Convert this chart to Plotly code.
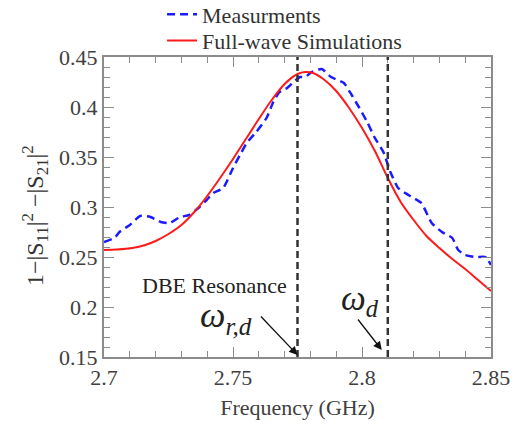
import plotly.graph_objects as go

# Measurements (blue dashed)
meas_f = [2.700, 2.704, 2.706, 2.710, 2.714, 2.718, 2.722, 2.7255, 2.7295, 2.733,
          2.737, 2.7398, 2.7424, 2.7462, 2.750, 2.7527, 2.7553, 2.759, 2.763, 2.7656,
          2.768, 2.771, 2.7735, 2.776, 2.778, 2.7805, 2.7844, 2.788, 2.793, 2.796,
          2.799, 2.802, 2.805, 2.8083, 2.811, 2.814, 2.818, 2.823, 2.827, 2.831,
          2.835, 2.8373, 2.840, 2.844, 2.848, 2.850]
meas_v = [0.265, 0.269, 0.275, 0.282, 0.291, 0.290, 0.285, 0.284, 0.290, 0.292,
          0.300, 0.307, 0.314, 0.319, 0.339, 0.352, 0.364, 0.375, 0.389, 0.405,
          0.415, 0.419, 0.425, 0.430, 0.430, 0.435, 0.438, 0.430, 0.424, 0.412,
          0.399, 0.385, 0.369, 0.355, 0.335, 0.319, 0.312, 0.304, 0.284, 0.275,
          0.269, 0.257, 0.252, 0.250, 0.250, 0.242]

# Full-wave simulations (red solid)
sim_f = [2.700, 2.705, 2.711, 2.716, 2.720, 2.725, 2.730, 2.735, 2.740, 2.745,
         2.750, 2.755, 2.760, 2.765, 2.770, 2.775, 2.778, 2.781, 2.785, 2.790,
         2.795, 2.800, 2.805, 2.810, 2.815, 2.820, 2.825, 2.830, 2.835, 2.840,
         2.845, 2.850]
sim_v = [0.257, 0.2575, 0.259, 0.262, 0.266, 0.273, 0.282, 0.295, 0.311, 0.329,
         0.348, 0.368, 0.388, 0.407, 0.423, 0.433, 0.435, 0.434, 0.428, 0.416,
         0.399, 0.379, 0.356, 0.329, 0.305, 0.287, 0.271, 0.259, 0.248, 0.238,
         0.227, 0.216]

# Marker frequencies (vertical dashed lines)
marker_f = [2.775, 2.81]

x_ticks = [2.7, 2.75, 2.8, 2.85]
x_tick_labels = ["2.7", "2.75", "2.8", "2.85"]
y_ticks = [0.15, 0.2, 0.25, 0.3, 0.35, 0.4, 0.45]
y_tick_labels = ["0.15", "0.2", "0.25", "0.3", "0.35", "0.4", "0.45"]

FONT = "Liberation Serif"

fig = go.Figure()
fig.add_trace(go.Scatter(
    x=meas_f, y=meas_v, mode="lines", name="Measurments", legend="legend",
    line=dict(color="#1a1aff", width=2.5, dash="8px,5px", shape="spline", smoothing=0.5),
))
fig.add_trace(go.Scatter(
    x=sim_f, y=sim_v, mode="lines", name="Full-wave Simulations", legend="legend2",
    line=dict(color="#ff1a1a", width=2, shape="spline", smoothing=0.8),
))

for f in marker_f:
    fig.add_shape(type="line", xref="x", yref="paper", x0=f, x1=f, y0=0, y1=1,
                  line=dict(color="#333333", width=2.5, dash="7px,4px"), layer="above")

axis_common = dict(
    showline=True, linecolor="#8c8c8c", linewidth=2, mirror="allticks",
    ticks="inside", ticklen=10, tickwidth=1.3, tickcolor="#8c8c8c",
    showgrid=False, zeroline=False, automargin=False,
    tickfont=dict(family=FONT, size=22, color="#404040"),
)

fig.update_xaxes(
    range=[2.7, 2.85], tickmode="array", tickvals=x_ticks, ticktext=x_tick_labels,
    minor=dict(dtick=0.01, ticks="inside", ticklen=6, tickwidth=1.3, tickcolor="#8c8c8c", showgrid=False),
    title=dict(text="Frequency (GHz)", font=dict(family=FONT, size=22, color="#404040"), standoff=10),
    **axis_common,
)
fig.update_yaxes(
    range=[0.15, 0.45], tickmode="array", tickvals=y_ticks, ticktext=y_tick_labels,
    minor=dict(dtick=0.01, ticks="inside", ticklen=6, tickwidth=1.3, tickcolor="#8c8c8c", showgrid=False),
    **axis_common,
)

# Y-axis title (placed as rotated annotation for precise positioning)
fig.add_annotation(x=-0.178, y=0.47, xref="paper", yref="paper", textangle=-90,
                   text="1−|S<sub>11</sub>|<sup>2</sup> −|S<sub>21</sub>|<sup>2</sup>",
                   showarrow=False, xanchor="center", yanchor="middle",
                   font=dict(family=FONT, size=24, color="#333333"))

# Annotations
fig.add_annotation(x=2.7, y=0.15, xref="x", yref="y", xshift=36, yshift=72,
                   text="DBE Resonance", showarrow=False, xanchor="left", yanchor="middle",
                   font=dict(family=FONT, size=22, color="#222222"))
fig.add_annotation(x=2.7, y=0.15, xref="x", yref="y", xshift=94, yshift=40,
                   text="<i>ω</i><sub><i>r,d</i></sub>", showarrow=False, xanchor="left", yanchor="middle",
                   font=dict(family=FONT, size=36, color="#222222"))
fig.add_annotation(x=2.7, y=0.15, xref="x", yref="y", xshift=235, yshift=57,
                   text="<i>ω</i><sub><i>d</i></sub>", showarrow=False, xanchor="left", yanchor="middle",
                   font=dict(family=FONT, size=35, color="#222222"))
fig.add_annotation(x=marker_f[0], y=0.152, xref="x", yref="y", text="", showarrow=True,
                   ax=-38, ay=-40, arrowhead=2, arrowsize=1.3, arrowwidth=1.3, arrowcolor="#111111",
                   standoff=0)
fig.add_annotation(x=marker_f[1], y=0.157, xref="x", yref="y", xshift=-6, text="", showarrow=True,
                   ax=-25, ay=-32, arrowhead=2, arrowsize=1.3, arrowwidth=1.3, arrowcolor="#111111",
                   standoff=0)

legend_common = dict(xanchor="left", yanchor="top", bgcolor="rgba(0,0,0,0)",
                     font=dict(family=FONT, size=22, color="#333333"), itemwidth=30)

fig.update_layout(
    width=526, height=424,
    margin=dict(l=96, r=43, t=49, b=75, autoexpand=False),
    paper_bgcolor="white", plot_bgcolor="white",
    showlegend=True,
    legend=dict(x=0.15, y=1.212, **legend_common),
    legend2=dict(x=0.15, y=1.124, **legend_common),
)

fig.write_html("out.html")
